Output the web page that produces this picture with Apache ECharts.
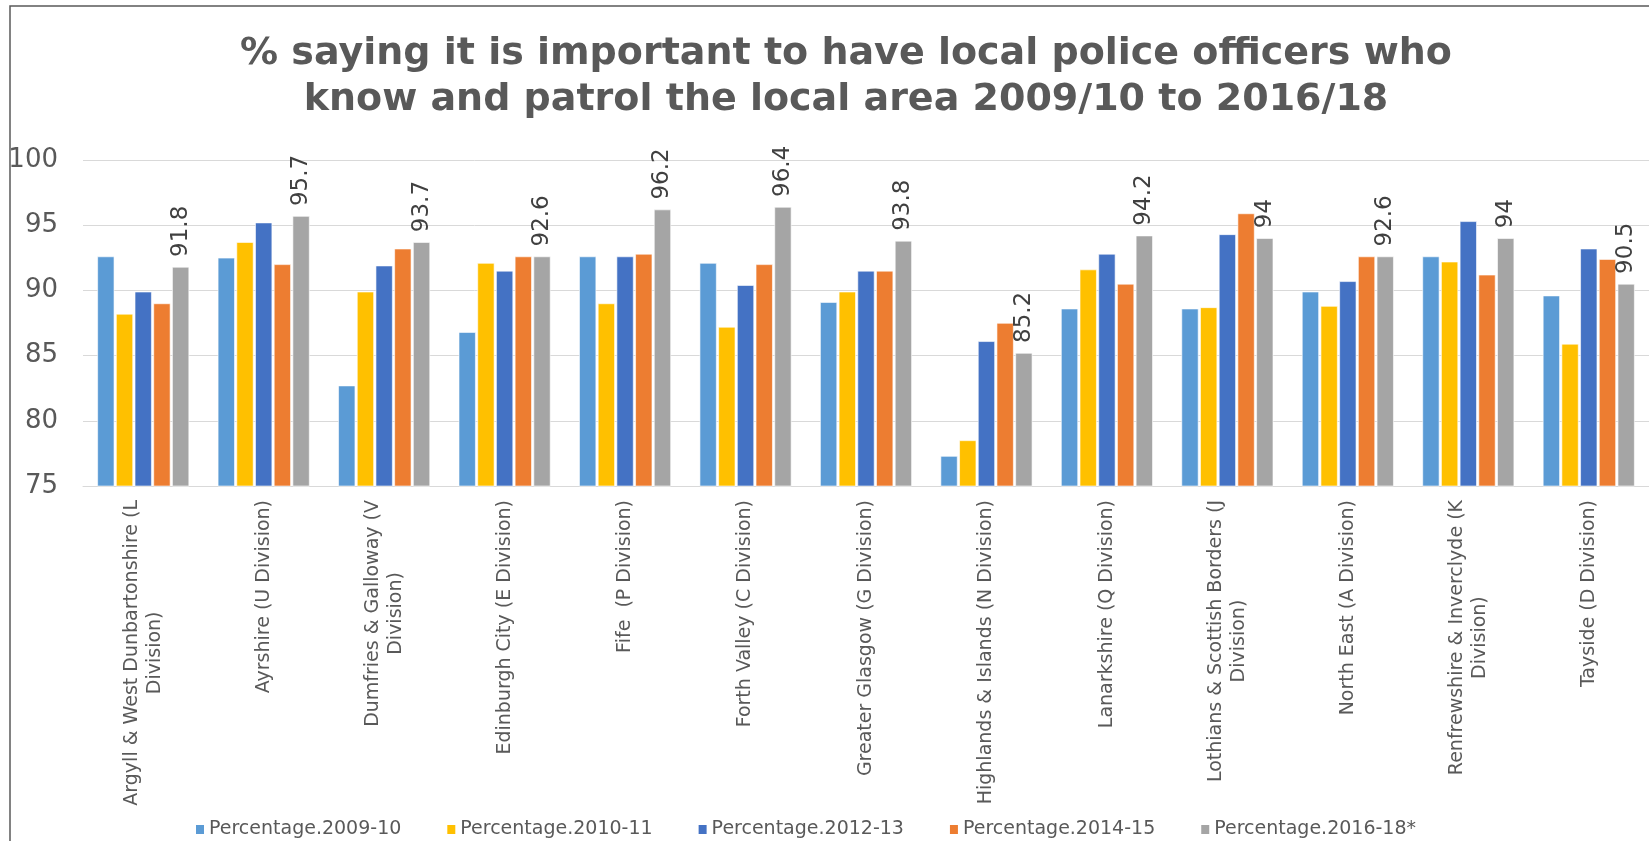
<!DOCTYPE html>
<html>
<head>
<meta charset="utf-8">
<title>Local police officers 2009/10 to 2016/18</title>
<script src="https://cdn.jsdelivr.net/npm/echarts@6/dist/echarts.min.js"></script>
<style>
  html, body { margin: 0; padding: 0; background: #fff; }
  #chart { width: 1649px; height: 841px; }
</style>
</head>
<body>
<div id="chart"></div>
<script>
// Police divisions (line breaks where the axis label wraps)
var divisions = [
  'Argyll & West Dunbartonshire (L\nDivision)',
  'Ayrshire (U Division)',
  'Dumfries & Galloway (V\nDivision)',
  'Edinburgh City (E Division)',
  'Fife  (P Division)',
  'Forth Valley (C Division)',
  'Greater Glasgow (G Division)',
  'Highlands & Islands (N Division)',
  'Lanarkshire (Q Division)',
  'Lothians & Scottish Borders (J\nDivision)',
  'North East (A Division)',
  'Renfrewshire & Inverclyde (K\nDivision)',
  'Tayside (D Division)'
];

var seriesNames = [
  'Percentage.2009-10',
  'Percentage.2010-11',
  'Percentage.2012-13',
  'Percentage.2014-15',
  'Percentage.2016-18*'
];

var pct2009_10 = [92.6, 92.5, 82.7, 86.8, 92.6, 92.1, 89.1, 77.3, 88.6, 88.6, 89.9, 92.6, 89.6];
var pct2010_11 = [88.2, 93.7, 89.9, 92.1, 89.0, 87.2, 89.9, 78.5, 91.6, 88.7, 88.8, 92.2, 85.9];
var pct2012_13 = [89.9, 95.2, 91.9, 91.5, 92.6, 90.4, 91.5, 86.1, 92.8, 94.3, 90.7, 95.3, 93.2];
var pct2014_15 = [89.0, 92.0, 93.2, 92.6, 92.8, 92.0, 91.5, 87.5, 90.5, 95.9, 92.6, 91.2, 92.4];
var pct2016_18 = [91.8, 95.7, 93.7, 92.6, 96.2, 96.4, 93.8, 85.2, 94.2, 94.0, 92.6, 94.0, 90.5];

var yTicks = { min: 75, max: 100, step: 5 };

var palette = ['#5B9BD5', '#FFC000', '#4472C4', '#ED7D31', '#A5A5A5'];
var values = [pct2009_10, pct2010_11, pct2012_13, pct2014_15, pct2016_18];

var FONT = 'DejaVu Sans';

var series = values.map(function (arr, i) {
  var s = {
    name: seriesNames[i],
    type: 'bar',
    data: arr,
    barWidth: 17,
    barGap: '10%',
    itemStyle: { color: palette[i], borderColor: '#ffffff', borderWidth: 0.6 },
    emphasis: { disabled: true },
    animation: false
  };
  if (i === values.length - 1) {
    // value labels on the latest survey period only
    s.label = {
      show: true,
      position: 'top',
      rotate: 90,
      align: 'left',
      verticalAlign: 'middle',
      distance: 10,
      fontFamily: FONT,
      fontSize: 23,
      color: '#404040',
      formatter: function (p) { return String(p.value); }
    };
  }
  return s;
});

var chart = echarts.init(document.getElementById('chart'), null, { renderer: 'canvas' });

chart.setOption({
  backgroundColor: '#ffffff',
  animation: false,
  color: palette,
  title: {
    text: '% saying it is important to have local police officers who\nknow and patrol the local area 2009/10 to 2016/18',
    left: 841,
    top: 26,
    textAlign: 'center',
    textStyle: {
      fontFamily: FONT,
      fontWeight: 'bold',
      fontSize: 38,
      lineHeight: 46,
      color: '#595959'
    }
  },
  legend: {
    data: seriesNames,
    left: 189,
    top: 815,
    itemWidth: 10,
    itemHeight: 11,
    itemGap: 44,
    icon: 'rect',
    textStyle: { fontFamily: FONT, fontSize: 19, color: '#595959', padding: [0, 0, 0, -1] }
  },
  grid: {
    left: 83,
    top: 160,
    width: 1573,
    height: 326,
    containLabel: false
  },
  xAxis: {
    type: 'category',
    data: divisions,
    axisLine: { show: true, lineStyle: { color: '#d9d9d9', width: 1 } },
    axisTick: { show: false },
    axisLabel: {
      interval: 0,
      rotate: 90,
      margin: 14,
      color: '#595959',
      fontFamily: FONT,
      fontSize: 19,
      lineHeight: 23,
      formatter: function (v) {
        return v.split('\n').map(function (line) { return '{c|' + line + '}'; }).join('\n');
      },
      rich: {
        c: { align: 'center', fontFamily: FONT, fontSize: 19, lineHeight: 23, color: '#595959' }
      }
    }
  },
  yAxis: {
    type: 'value',
    min: yTicks.min,
    max: yTicks.max,
    interval: yTicks.step,
    axisLine: { show: false },
    axisTick: { show: false },
    splitLine: { lineStyle: { color: '#d9d9d9', width: 1 } },
    axisLabel: { margin: 25, color: '#595959', fontFamily: FONT, fontSize: 26 }
  },
  graphic: [
    {
      type: 'rect',
      silent: true,
      z: 100,
      shape: { x: 10, y: 6, width: 1700, height: 900 },
      style: { fill: 'none', stroke: '#595959', lineWidth: 1.5 }
    }
  ],
  series: series
});
</script>
</body>
</html>
